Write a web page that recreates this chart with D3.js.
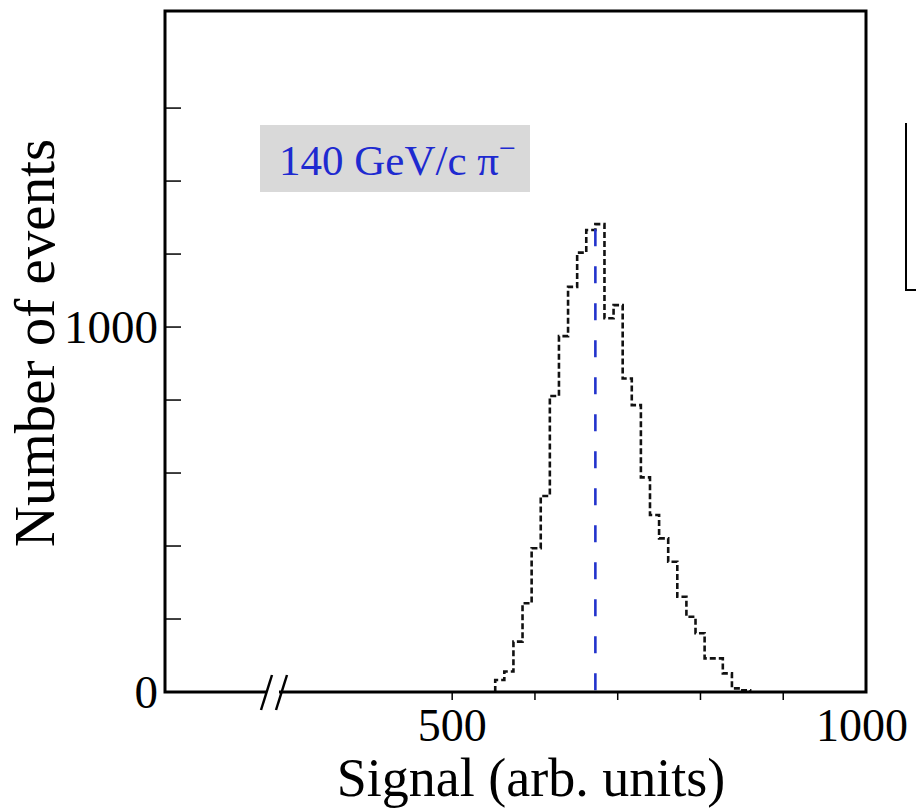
<!DOCTYPE html>
<html lang="en">
<head>
<meta charset="UTF-8" />
<title>Signal distribution, 140 GeV/c pi-</title>
<script src="https://d3js.org/d3.v7.min.js"></script>
<style>
  body { margin: 0; background: #fff; }
  svg { display: block; font-family: "Liberation Serif", "DejaVu Serif", serif; }
</style>
</head>
<body>
<svg id="chart" width="916" height="810"></svg>
<script>
// histogram bins: lower edge of each bin (arb. units) and events per bin
const binEdges = [552, 563, 574, 585, 596, 607, 618, 629, 640, 651, 662, 673, 684, 695,
                  706, 717, 728, 739, 750, 761, 772, 783, 794, 805, 816, 827, 838, 849];
const binWidth = 11;
const counts = [33, 56, 138, 243, 394, 537, 811, 975, 1110, 1204, 1266, 1282, 1024, 1060,
                859, 786, 588, 485, 421, 357, 261, 206, 161, 92, 92, 51, 10, 5];

const meanSignal = 673;     // blue dashed marker
const meanLineTop = 1268;

const xTicks = [500, 600, 700, 800, 900, 1000];
const xTickLabels = [500, 1000];
const yTicks = [0, 200, 400, 600, 800, 1000, 1200, 1400, 1600];
const yTickLabels = [0, 1000];

const beamLabel = "140 GeV/c π";

const svg = d3.select("#chart");
const margin = {left: 165, top: 11, right: 50, bottom: 118};
const W = 916, H = 810;
const plotW = W - margin.left - margin.right;
const plotH = H - margin.top - margin.bottom;

const x = d3.scaleLinear().domain([153, 1000]).range([margin.left, margin.left + plotW]);
const y = d3.scaleLinear().domain([0, 1866]).range([margin.top + plotH, margin.top]);

svg.append("rect").attr("width", W).attr("height", H).attr("fill", "#fff");

// beam label box
const lbl = svg.append("g");
lbl.append("rect")
  .attr("x", 260).attr("y", 125).attr("width", 270).attr("height", 67)
  .attr("fill", "#d9d9d9");
const lt = lbl.append("text")
  .attr("x", 279).attr("y", 175)
  .attr("font-size", 43).attr("fill", "#1e2ad0");
lt.append("tspan").text(beamLabel);
lt.append("tspan").attr("dy", -17).attr("font-size", 30).text("−");

// histogram (dashed step outline)
const steps = [];
binEdges.forEach((e, i) => {
  steps.push([e, i === 0 ? 0 : counts[i - 1]]);
  steps.push([e, counts[i]]);
});
const lastEdge = binEdges[binEdges.length - 1] + binWidth;
steps.push([lastEdge, counts[counts.length - 1]]);
steps.push([lastEdge, 0]);

svg.append("path")
  .attr("d", d3.line().x(d => x(d[0])).y(d => y(d[1]))(steps))
  .attr("fill", "none")
  .attr("stroke", "#111")
  .attr("stroke-width", 2.6)
  .attr("stroke-dasharray", "6,3");

// mean marker
svg.append("line")
  .attr("x1", x(meanSignal)).attr("x2", x(meanSignal))
  .attr("y1", y(meanLineTop)).attr("y2", y(0))
  .attr("stroke", "#2233cc")
  .attr("stroke-width", 2.6)
  .attr("stroke-dasharray", "17,20");

// frame
svg.append("rect")
  .attr("x", margin.left).attr("y", margin.top)
  .attr("width", plotW).attr("height", plotH)
  .attr("fill", "none").attr("stroke", "#000").attr("stroke-width", 3);

// x ticks (outward)
svg.append("g").selectAll("line")
  .data(xTicks.filter(d => d < 1000))
  .join("line")
  .attr("x1", d => x(d)).attr("x2", d => x(d))
  .attr("y1", y(0)).attr("y2", y(0) + 8)
  .attr("stroke", "#000").attr("stroke-width", 1.5);

svg.append("g").selectAll("text")
  .data(xTickLabels)
  .join("text")
  .attr("x", d => d === 1000 ? x(d) - 4 : x(d))
  .attr("y", 741)
  .attr("text-anchor", "middle")
  .attr("font-size", 46)
  .text(d => d);

// y ticks (inward)
svg.append("g").selectAll("line")
  .data(yTicks.filter(d => d > 0))
  .join("line")
  .attr("x1", margin.left).attr("x2", margin.left + 16)
  .attr("y1", d => y(d)).attr("y2", d => y(d))
  .attr("stroke", "#000").attr("stroke-width", 1.5);

svg.append("g").selectAll("text")
  .data(yTickLabels)
  .join("text")
  .attr("x", 158)
  .attr("y", d => y(d))
  .attr("dy", "0.35em")
  .attr("text-anchor", "end")
  .attr("font-size", 47)
  .text(d => d);

// axis break
const bx = 263, by = y(0);
svg.append("rect").attr("x", bx + 4).attr("y", by - 3).attr("width", 12).attr("height", 6).attr("fill", "#fff");
[0, 15].forEach(o => {
  svg.append("line")
    .attr("x1", bx + o - 2).attr("y1", by + 18)
    .attr("x2", bx + o + 9).attr("y2", by - 17)
    .attr("stroke", "#000").attr("stroke-width", 2.5);
});

// axis titles
svg.append("text")
  .attr("x", 531).attr("y", 796)
  .attr("text-anchor", "middle")
  .attr("font-size", 54)
  .text("Signal (arb. units)");

svg.append("text")
  .attr("transform", "translate(54,343) rotate(-90)")
  .attr("text-anchor", "middle")
  .attr("font-size", 57)
  .text("Number of events");

// edge of the neighbouring panel
svg.append("path")
  .attr("d", "M906,123 V290 H916")
  .attr("fill", "none").attr("stroke", "#000").attr("stroke-width", 2);
</script>
</body>
</html>
